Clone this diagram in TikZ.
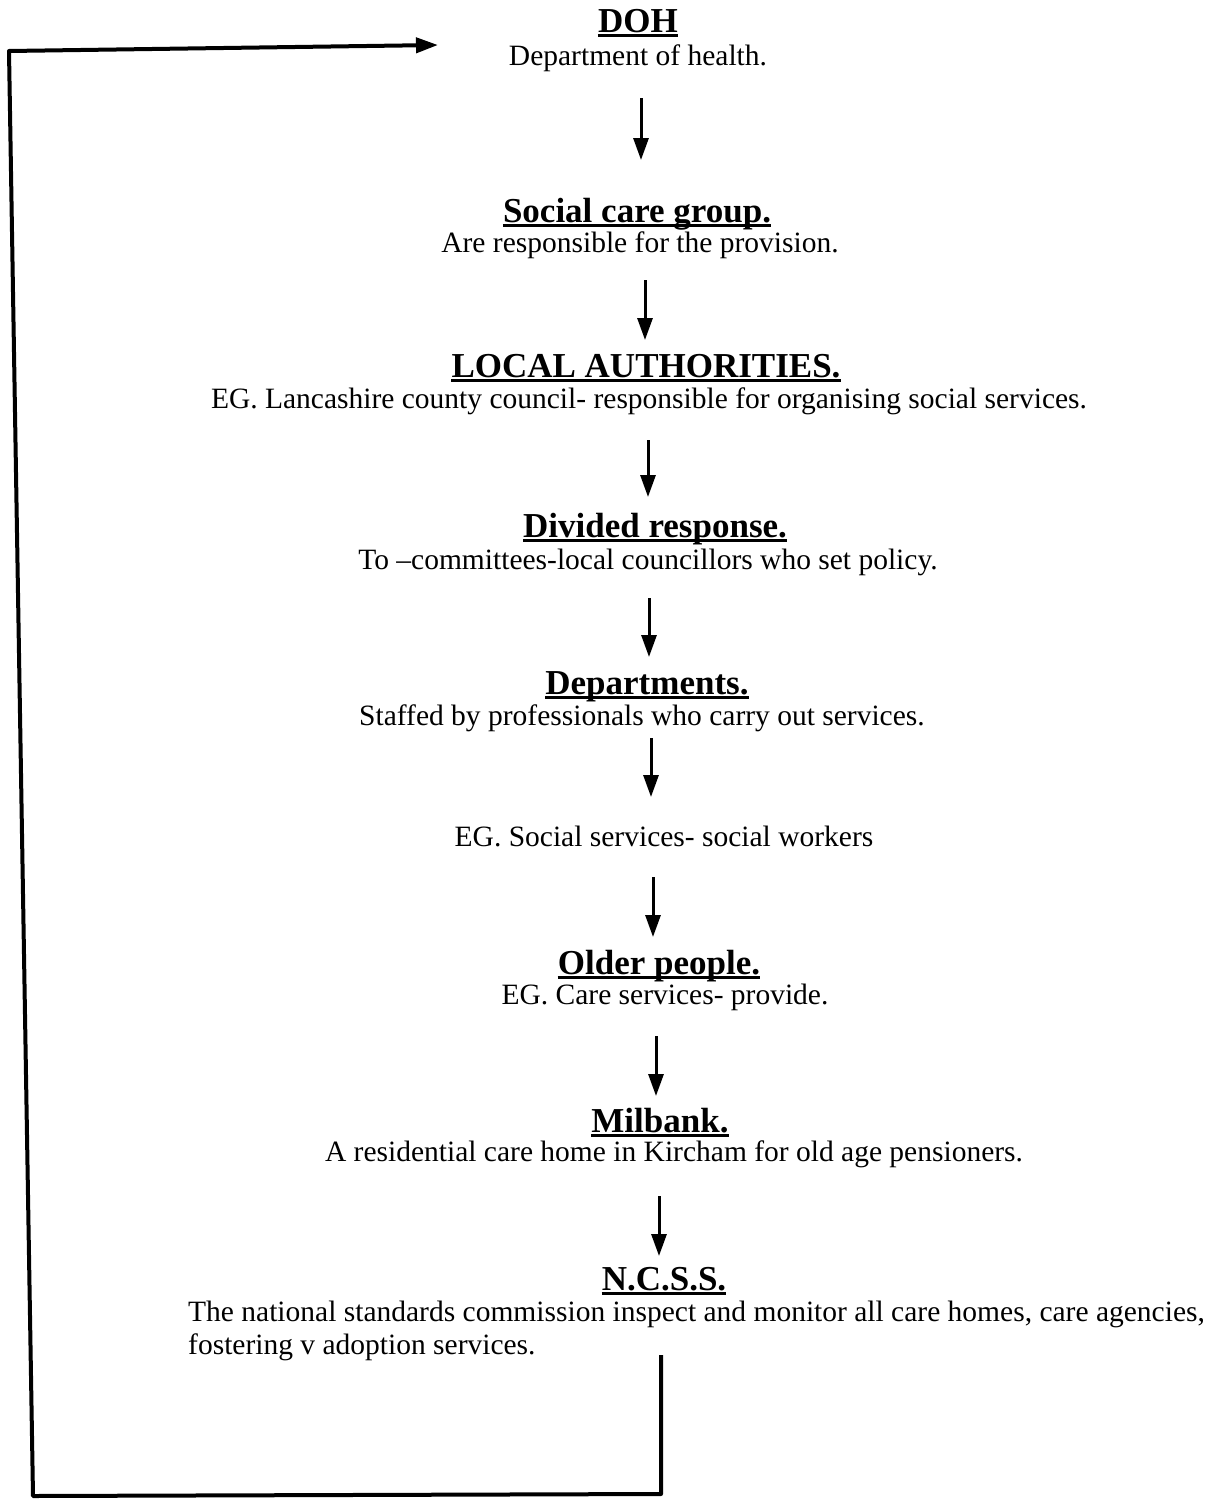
\documentclass[tikz,border=0pt]{standalone}
\usepackage{fontspec}
\setmainfont{Liberation Serif}
\usetikzlibrary{arrows.meta}
\begin{document}
\begin{tikzpicture}[x=1pt,y=-1pt,
  head/.style={inner sep=0pt,anchor=base,font=\fontsize{35}{38}\selectfont\bfseries},
  desc/.style={inner sep=0pt,anchor=base,font=\fontsize{29.5}{32}\selectfont},
  arr/.style={line width=3pt,-{Triangle[length=22pt,width=15pt]}},
  loopline/.style={line width=4pt,line join=round},
  ul/.style={line width=2.6pt}]
\useasboundingbox[fill=white] (0,0) rectangle (1211,1499);

% headings and descriptions
\node[head] (h1) at (638,32) {DOH};
\node[desc] (d1) at (638,65) {Department of health.};
\node[head] (h2) at (637,222) {Social care group.};
\node[desc] (d2) at (640,252) {Are responsible for the provision.};
\node[head] (h3) at (646,377) {LOCAL AUTHORITIES.};
\node[desc] (d3) at (649,408) {EG. Lancashire county council- responsible for organising social services.};
\node[head] (h4) at (655,537) {Divided response.};
\node[desc] (d4) at (648,569) {To --committees-local councillors who set policy.};
\node[head] (h5) at (647,694) {Departments.};
\node[desc] (d5) at (642,725) {Staffed by professionals who carry out services.};
\node[desc] (d6) at (664,846) {EG. Social services- social workers};
\node[head] (h7) at (659,974) {Older people.};
\node[desc] (d7) at (665,1004) {EG. Care services- provide.};
\node[head] (h8) at (660,1132) {Milbank.};
\node[desc] (d8) at (674,1161) {A residential care home in Kircham for old age pensioners.};
\node[head] (h9) at (664,1290) {N.C.S.S.};
\node[desc,anchor=base west] (d9a) at (188,1321) {The national standards commission inspect and monitor all care homes, care agencies,};
\node[desc,anchor=base west] (d9b) at (188,1354) {fostering v adoption services.};

% underlines
\foreach \n in {h1,h2,h3,h4,h5,h7,h8,h9}
  \draw[ul] ([yshift=-3.5pt]\n.base west) -- ([yshift=-3.5pt]\n.base east);

% vertical arrows
\foreach \i/\x/\ya/\yb in {1/641/98/160, 2/645/280/340, 3/648/440/497, 4/649/598/657,
                            5/651/738/797, 6/653/877/937, 7/656/1036/1096, 8/659/1196/1256}{
  \coordinate (t\i) at (\x,\ya);
  \coordinate (b\i) at (\x,\yb);
  \draw[arr] (t\i) -- (b\i);
}

% feedback loop
\coordinate (l0) at (661,1355);
\coordinate (l1) at (661,1494);
\coordinate (l2) at (33,1496);
\coordinate (l3) at (9,51);
\coordinate (l4) at (438,45);
\draw[loopline,-{Triangle[length=22pt,width=15pt]}] (l0) -- (l1) -- (l2) -- (l3) -- (l4);
\end{tikzpicture}
\end{document}
